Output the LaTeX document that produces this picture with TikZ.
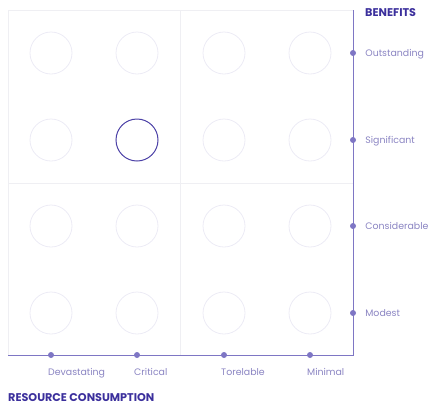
\documentclass[tikz,border=0pt]{standalone}
\usepackage{fontspec}
\setmainfont{Poppins}
\usetikzlibrary{positioning}
\definecolor{gridgray}{HTML}{EFEFF3}
\definecolor{ringgray}{HTML}{ECEBF5}
\definecolor{axispurple}{HTML}{7E76C4}
\definecolor{labelpurple}{HTML}{8A84C2}
\definecolor{titlepurple}{HTML}{3B2F9C}
\definecolor{ringdark}{HTML}{4B40A6}
\tikzset{
  ring/.style={circle, draw=ringgray, line width=0.8pt, minimum size=42pt, inner sep=0pt},
  tickdot/.style={circle, fill=axispurple, inner sep=0pt, minimum size=6pt},
  ticklabel/.style={text=labelpurple, font=\fontsize{9.4}{11}\selectfont, inner sep=0pt, text height=1.6ex, text depth=0.3ex},
  axistitle/.style={text=titlepurple, font=\bfseries\fontsize{11.2}{13}\selectfont, inner sep=0pt, text height=1.6ex, text depth=0.3ex},
}
\begin{document}
\begin{tikzpicture}[x=1pt, y=-1pt]
            \useasboundingbox (0,0) rectangle (428,405);
            % grid of the four fields
            \draw[gridgray, line width=0.8pt] (8,10) rectangle (353,355);
            \draw[gridgray, line width=0.8pt] (180.5,10) -- (180.5,355);
            \draw[gridgray, line width=0.8pt] (8,183) -- (353,183);

            \node[ring] (c11) at (51,53) {};
            \node[ring] (c12) at (137,53) {};
            \node[ring] (c13) at (224,53) {};
            \node[ring] (c14) at (310,53) {};
            \node[ring] (c21) at (51,140) {};
            \node[ring, draw=ringdark, line width=1pt] (c22) at (137,140) {};
            \node[ring] (c23) at (224,140) {};
            \node[ring] (c24) at (310,140) {};
            \node[ring] (c31) at (51,226) {};
            \node[ring] (c32) at (137,226) {};
            \node[ring] (c33) at (224,226) {};
            \node[ring] (c34) at (310,226) {};
            \node[ring] (c41) at (51,313) {};
            \node[ring] (c42) at (137,313) {};
            \node[ring] (c43) at (224,313) {};
            \node[ring] (c44) at (310,313) {};

            % axes
            \coordinate (top) at (353,10);
            \coordinate (corner) at (353,355);
            \coordinate (left) at (8,355);
            \draw[axispurple, line width=1pt] (top) -- (corner) -- (left);

            \node[tickdot] (by1) at (353,53) {};
            \node[ticklabel, right=9pt of by1] {Outstanding};
            \node[tickdot] (by2) at (353,140) {};
            \node[ticklabel, right=9pt of by2] {Significant};
            \node[tickdot] (by3) at (353,226) {};
            \node[ticklabel, right=9pt of by3] {Considerable};
            \node[tickdot] (by4) at (353,313) {};
            \node[ticklabel, right=9pt of by4] {Modest};

            \node[tickdot] (bx1) at (51,355) {};
            \node[ticklabel, anchor=west] at (48,372) {Devastating};
            \node[tickdot] (bx2) at (137,355) {};
            \node[ticklabel, anchor=west] at (134,372) {Critical};
            \node[tickdot] (bx3) at (224,355) {};
            \node[ticklabel, anchor=west] at (221,372) {Torelable};
            \node[tickdot] (bx4) at (310,355) {};
            \node[ticklabel, anchor=west] at (307,372) {Minimal};

            \node[axistitle, anchor=west] (ytitle) at (365,13) {BENEFITS};
            \node[axistitle, anchor=west] (xtitle) at (8,397.5) {RESOURCE CONSUMPTION};
        \end{tikzpicture}
\end{document}
